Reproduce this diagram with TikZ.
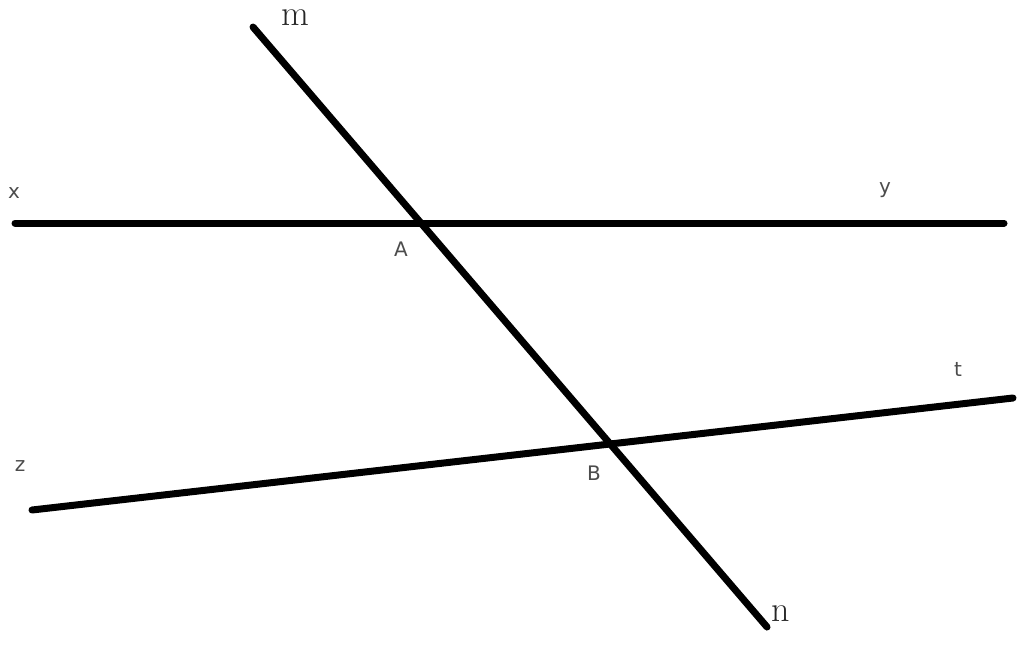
\documentclass[tikz,border=0pt]{standalone}
\usepackage{fontspec}
\newfontfamily\labelfont{DejaVu Sans}
\usetikzlibrary{positioning}

\begin{document}
\begin{tikzpicture}[x=1pt,y=-1pt,
  thickline/.style={line width=7pt,line cap=round},
  ptlabel/.style={font=\labelfont\fontsize{20}{20}\selectfont,text=black!70,inner sep=0pt},
  endlabel/.style={font=\fontsize{36}{36}\selectfont,text=black!85,inner sep=0pt}]
\useasboundingbox (0,0) rectangle (1024,659);
% end points of the lines
\coordinate (m_0) at (253,27);
\coordinate (n_0) at (767,627);
\coordinate (x_0) at (15,223);
\coordinate (y_0) at (1004,223);
\coordinate (z_0) at (32,510);
\coordinate (t_0) at (1013,398);
\draw [thickline] (m_0) -- (n_0);
\draw [thickline] (x_0) -- (y_0);
\draw [thickline] (z_0) -- (t_0);
% labels
\node [endlabel] (m) at (295,18) {m};
\node [endlabel] (n) at (781,614) {n};
\node [ptlabel] (x) at (14,193) {x};
\node [ptlabel] (y) at (885,190) {y};
\node [ptlabel] (A) at (401,249) {A};
\node [ptlabel] (B) at (594,473) {B};
\node [ptlabel] (t) at (958,369) {t};
\node [ptlabel] (z) at (20,466) {z};
\end{tikzpicture}
\end{document}
